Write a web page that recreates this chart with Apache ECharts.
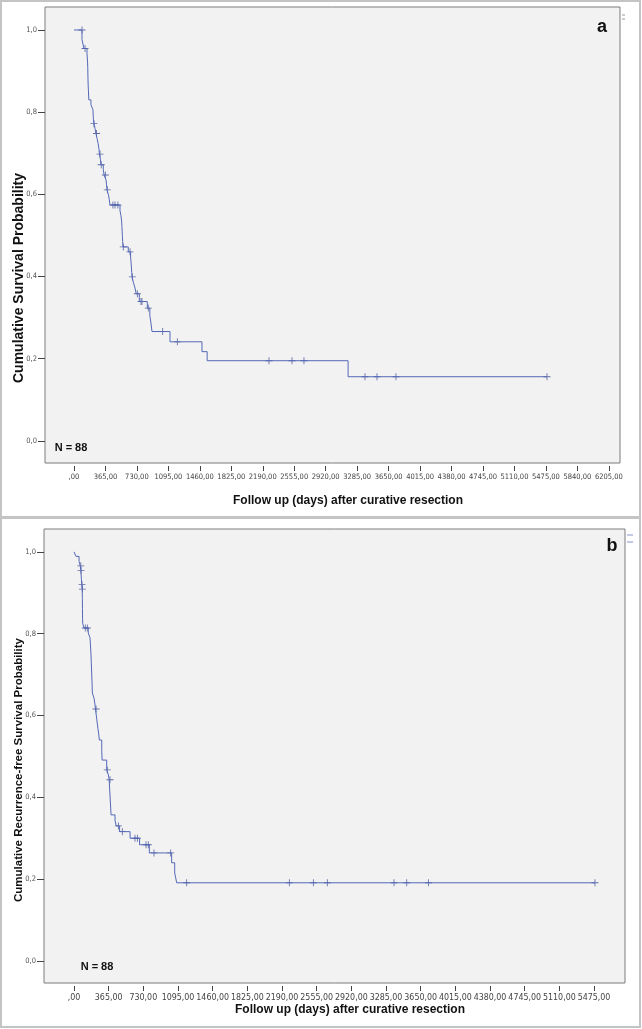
<!DOCTYPE html>
<html>
<head>
<meta charset="utf-8">
<script src="https://cdn.jsdelivr.net/npm/echarts@6/dist/echarts.min.js"></script>
<style>
  html, body { margin: 0; padding: 0; background: #fff; }
  #chart { width: 642px; height: 1029px; }
</style>
</head>
<body>
<div id="chart"></div>
<script>
// panel a: overall survival (Kaplan-Meier steps)
const osTime = [0, 93, 116, 151, 155, 158, 160, 162, 165, 168, 172, 197, 220, 225, 232, 245, 255, 268, 280, 290, 296, 308, 313, 340, 350, 372, 378, 383, 400, 410, 418, 534, 545, 553, 556, 559, 562, 565, 568, 630, 657, 662, 666, 670, 674, 690, 708, 722, 758, 851, 880, 893, 905, 1114, 1485, 1545, 3180, 5487]
const osSurv = [1.0, 0.977, 0.955, 0.943, 0.932, 0.92, 0.909, 0.886, 0.864, 0.852, 0.83, 0.818, 0.806, 0.784, 0.772, 0.76, 0.748, 0.736, 0.724, 0.71, 0.698, 0.684, 0.672, 0.66, 0.647, 0.635, 0.623, 0.611, 0.599, 0.587, 0.574, 0.56, 0.548, 0.535, 0.522, 0.51, 0.497, 0.485, 0.472, 0.46, 0.447, 0.435, 0.423, 0.41, 0.399, 0.385, 0.372, 0.358, 0.339, 0.323, 0.305, 0.287, 0.266, 0.241, 0.217, 0.195, 0.156, 0.156]
const osCensorTime = [93, 128, 232, 262, 302, 316, 364, 387, 452, 476, 510, 572, 650, 677, 735, 777, 789, 862, 1029, 1199, 2262, 2529, 2668, 3376, 3515, 3735, 5487]
const osCensorSurv = [1.0, 0.955, 0.772, 0.748, 0.698, 0.672, 0.647, 0.611, 0.574, 0.574, 0.574, 0.472, 0.46, 0.399, 0.358, 0.339, 0.339, 0.323, 0.266, 0.241, 0.195, 0.195, 0.195, 0.156, 0.156, 0.156, 0.156]

// panel b: recurrence-free survival
const rfsTime = [0, 21, 53, 65, 72, 78, 82, 86, 88, 89, 90, 91, 105, 150, 168, 172, 178, 182, 186, 190, 193, 210, 220, 226, 239, 252, 260, 267, 292, 296, 344, 362, 370, 390, 432, 445, 480, 590, 690, 793, 1028, 1060, 1081, 5485]
const rfsSurv = [1.0, 0.989, 0.977, 0.966, 0.955, 0.932, 0.92, 0.909, 0.886, 0.862, 0.838, 0.826, 0.814, 0.802, 0.79, 0.777, 0.753, 0.729, 0.704, 0.68, 0.655, 0.643, 0.628, 0.616, 0.592, 0.568, 0.555, 0.54, 0.515, 0.491, 0.467, 0.455, 0.443, 0.357, 0.343, 0.33, 0.316, 0.30, 0.284, 0.264, 0.24, 0.215, 0.191, 0.191]
const rfsCensorTime = [71, 74, 84, 88, 119, 140, 232, 350, 379, 467, 509, 642, 667, 758, 782, 842, 1018, 1186, 2267, 2520, 2667, 3369, 3503, 3731, 5485]
const rfsCensorSurv = [0.966, 0.955, 0.92, 0.909, 0.814, 0.814, 0.616, 0.467, 0.443, 0.33, 0.316, 0.30, 0.30, 0.284, 0.284, 0.264, 0.264, 0.191, 0.191, 0.191, 0.191, 0.191, 0.191, 0.191, 0.191]

const dayTicksA = [0, 365, 730, 1095, 1460, 1825, 2190, 2555, 2920, 3285, 3650, 4015, 4380, 4745, 5110, 5475, 5840, 6205]
const dayTicksB = [0, 365, 730, 1095, 1460, 1825, 2190, 2555, 2920, 3285, 3650, 4015, 4380, 4745, 5110, 5475]
const probTicks = [0, 0.2, 0.4, 0.6, 0.8, 1.0]

const zip = (xs, ys) => xs.map((x, i) => [x, ys[i]])
const dayFmt = v => (v === 0 ? ',00' : v.toFixed(2).replace('.', ','))
const probFmt = v => v.toFixed(1).replace('.', ',')

const lineColor = '#5468b8'
const censorColor = '#3a4a92'
const narrow = "'Liberation Sans Narrow', 'DejaVu Sans Condensed', 'Arial Narrow', sans-serif"
const boldFont = "'Liberation Sans', Arial, sans-serif"
const plus = 'path://M4.4,0H5.6V10H4.4Z M0,4.4H10V5.6H0Z'

const xAxisOf = (gridIndex, min, max, ticks, fontSize) => ({
  type: 'value',
  gridIndex,
  min,
  max,
  offset: 3,
  axisLine: { show: false, onZero: false },
  splitLine: { show: false },
  axisTick: { show: true, length: 5, customValues: ticks, lineStyle: { color: '#444', width: 1 } },
  axisLabel: {
    customValues: ticks,
    formatter: dayFmt,
    color: '#444',
    fontSize,
    fontFamily: narrow,
    margin: 7,
    showMinLabel: true,
    showMaxLabel: true,
    hideOverlap: false,
  },
})

const yAxisOf = gridIndex => ({
  type: 'value',
  gridIndex,
  min: -0.054,
  max: 1.056,
  axisLine: { show: false, onZero: false },
  splitLine: { show: false },
  axisTick: { show: true, length: 7, customValues: probTicks, lineStyle: { color: '#444', width: 1 } },
  axisLabel: {
    customValues: probTicks,
    formatter: probFmt,
    color: '#555',
    fontSize: 7.5,
    fontFamily: narrow,
    margin: 8,
  },
})

const stepSeries = (idx, data) => ({
  type: 'line',
  xAxisIndex: idx,
  yAxisIndex: idx,
  step: 'end',
  data,
  showSymbol: false,
  symbol: 'none',
  lineStyle: { color: lineColor, width: 1 },
  silent: true,
})

const censorSeries = (idx, data) => ({
  type: 'scatter',
  xAxisIndex: idx,
  yAxisIndex: idx,
  data,
  symbol: plus,
  symbolSize: 7,
  itemStyle: { color: censorColor },
  silent: true,
})

const text = (x, y, str, font, extra) => ({
  type: 'text',
  x,
  y,
  style: Object.assign({ text: str, font, fill: '#111', align: 'center', verticalAlign: 'middle' }, extra || {}),
})

const chart = echarts.init(document.getElementById('chart'))
chart.setOption({
  animation: false,
  backgroundColor: '#ffffff',
  grid: [
    { left: 45, top: 7, width: 575, height: 456, show: true, backgroundColor: '#f2f2f2', borderColor: '#7d7d7d', borderWidth: 1 },
    { left: 44, top: 529, width: 581, height: 454, show: true, backgroundColor: '#f2f2f2', borderColor: '#7d7d7d', borderWidth: 1 },
  ],
  xAxis: [
    xAxisOf(0, -336, 6334, dayTicksA, 7.5),
    xAxisOf(1, -316, 5801, dayTicksB, 8.8),
  ],
  yAxis: [yAxisOf(0), yAxisOf(1)],
  series: [
    stepSeries(0, zip(osTime, osSurv)),
    censorSeries(0, zip(osCensorTime, osCensorSurv)),
    stepSeries(1, zip(rfsTime, rfsSurv)),
    censorSeries(1, zip(rfsCensorTime, rfsCensorSurv)),
  ],
  graphic: [
    // panel frames
    { type: 'rect', shape: { x: 1, y: 1, width: 639, height: 516 }, style: { fill: 'none', stroke: '#c4c4c4', lineWidth: 2 }, silent: true },
    { type: 'rect', shape: { x: 1, y: 518, width: 639, height: 509 }, style: { fill: 'none', stroke: '#c4c4c4', lineWidth: 2 }, silent: true },
    // panel a texts
    text(602, 27, 'a', `bold 18px ${boldFont}`),
    text(71, 448, 'N = 88', `bold 11px ${boldFont}`),
    text(348, 501, 'Follow up (days) after curative resection', `bold 12px ${boldFont}`),
    Object.assign(text(19, 278, 'Cumulative Survival Probability', `bold 14px ${boldFont}`), { rotation: Math.PI / 2 }),
    // panel b texts
    text(612, 546, 'b', `bold 18px ${boldFont}`),
    text(97, 967, 'N = 88', `bold 11px ${boldFont}`),
    text(350, 1010, 'Follow up (days) after curative resection', `bold 12px ${boldFont}`),
    Object.assign(text(19, 770, 'Cumulative Recurrence-free Survival Probability', `bold 11.5px ${boldFont}`), { rotation: Math.PI / 2 }),
    // legend remnants at the top right of each plot
    { type: 'line', shape: { x1: 622, y1: 15, x2: 625, y2: 15 }, style: { stroke: '#999', lineWidth: 1 }, silent: true },
    { type: 'line', shape: { x1: 622, y1: 19, x2: 625, y2: 19 }, style: { stroke: '#999', lineWidth: 1 }, silent: true },
    { type: 'line', shape: { x1: 627, y1: 535, x2: 633, y2: 535 }, style: { stroke: '#8893cc', lineWidth: 1 }, silent: true },
    { type: 'line', shape: { x1: 627, y1: 542, x2: 633, y2: 542 }, style: { stroke: '#8893cc', lineWidth: 1 }, silent: true },
  ],
})
</script>
</body>
</html>
